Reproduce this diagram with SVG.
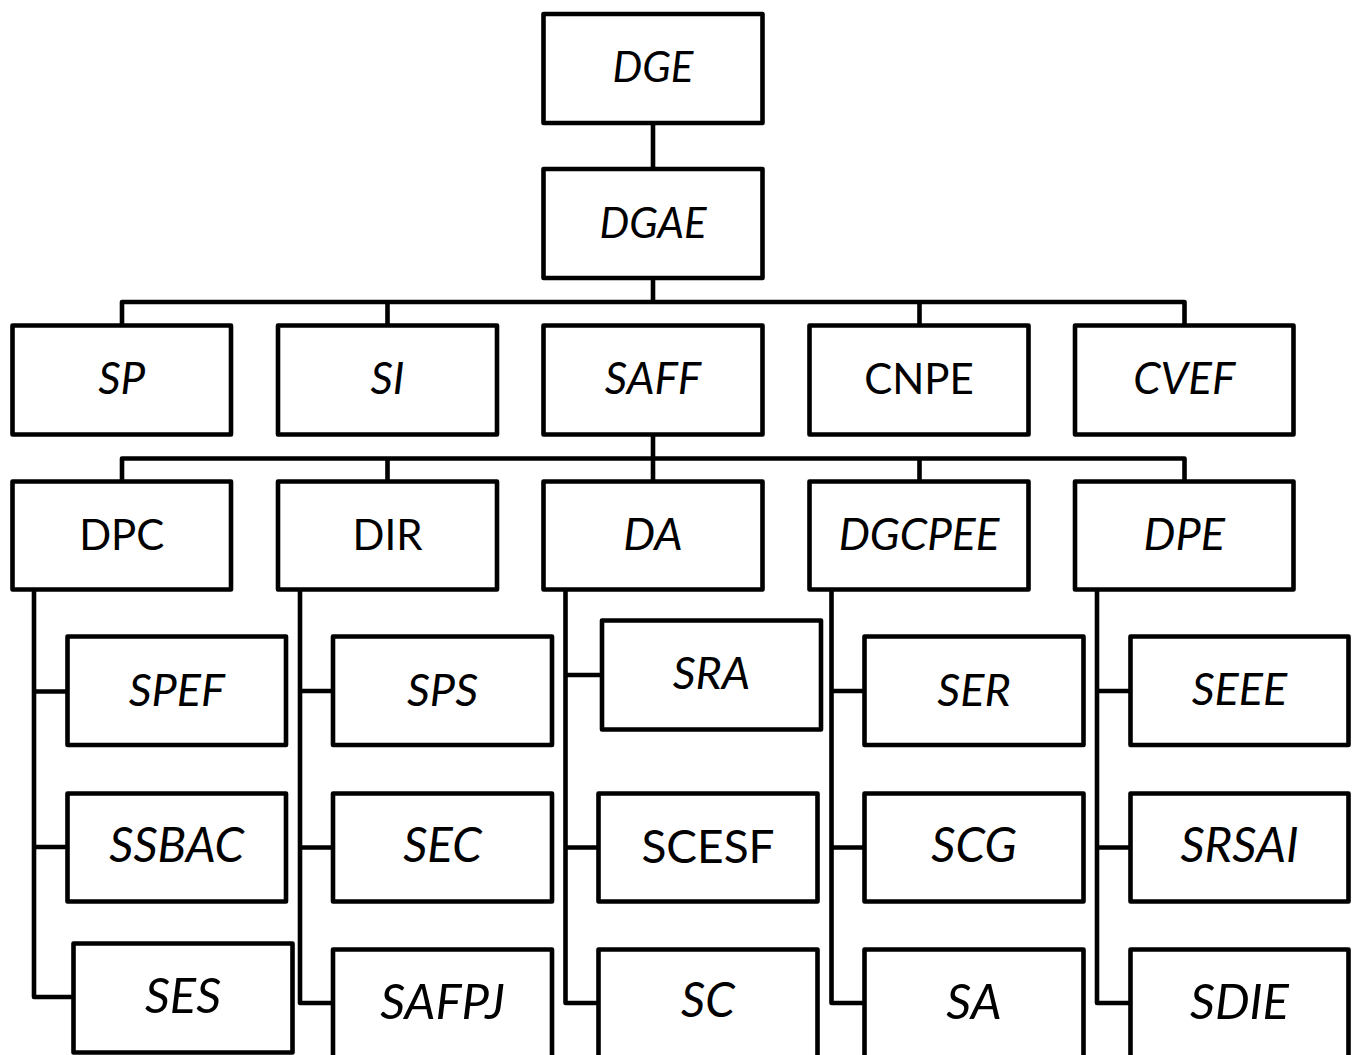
<svg xmlns="http://www.w3.org/2000/svg" width="1362" height="1055" viewBox="0 0 1362 1055">
<style>
.b{fill:#fff;stroke:#000;stroke-width:4.6;stroke-linejoin:round}
.c{fill:none;stroke:#000;stroke-width:4.6;stroke-linejoin:round}
text{font-family:Lato,"Open Sans",sans-serif;text-anchor:middle;fill:#000}
.i{font-style:italic}
.u{font-size:42px}
.s0{font-size:42px}.s1{font-size:44px}.s2{font-size:45px}.s3{font-size:47.5px}.s4{font-size:49px}
</style>
<rect width="1362" height="1055" fill="#fff"/>
<g id="connectors" class="c">
<path d="M653,123V169M653,278V302M122,325V302H1184.5V325M387.5,302V325M919.5,302V325"/>
<path d="M653,434V458.5M122,481V458.5H1184.5V481M387.5,458.5V481M653,458.5V481M919.5,458.5V481"/>
<path d="M34,589V997H73.5M34,691.5H67.5M34,847H67.5"/>
<path d="M300,589V1003H333M300,691H333M300,847.5H333"/>
<path d="M565.5,589V1003H598.5M565.5,675H602M565.5,847.5H598.5"/>
<path d="M831.5,589V1003H864.5M831.5,691H864.5M831.5,847.5H864.5"/>
<path d="M1097,589V1003H1130.5M1097,691H1130.5M1097,847.5H1130.5"/>
</g>
<g id="DGE"><rect class="b" x="543.5" y="14" width="219" height="109"/><text class="i s0" x="653" y="82">DGE</text></g>
<g id="DGAE"><rect class="b" x="543.5" y="169" width="219" height="109"/><text class="i s0" x="653" y="238">DGAE</text></g>
<g id="SP"><rect class="b" x="12.5" y="325.5" width="218.5" height="109"/><text class="i s1" x="121.75" y="394">SP</text></g>
<g id="SI"><rect class="b" x="278" y="325.5" width="219" height="109"/><text class="i s1" x="387.5" y="394">SI</text></g>
<g id="SAFF"><rect class="b" x="543.5" y="325.5" width="219" height="109"/><text class="i s1" x="653" y="394">SAFF</text></g>
<g id="CNPE"><rect class="b" x="809.5" y="325.5" width="219" height="109"/><text class="u" x="919" y="394">CNPE</text></g>
<g id="CVEF"><rect class="b" x="1075" y="325.5" width="218.5" height="109"/><text class="i s1" x="1184.25" y="394">CVEF</text></g>
<g id="DPC"><rect class="b" x="12.5" y="481.5" width="218.5" height="108"/><text class="u" x="121.75" y="550">DPC</text></g>
<g id="DIR"><rect class="b" x="278" y="481.5" width="219" height="108"/><text class="u" x="387.5" y="550">DIR</text></g>
<g id="DA"><rect class="b" x="543.5" y="481.5" width="219" height="108"/><text class="i s2" x="653" y="550">DA</text></g>
<g id="DGCPEE"><rect class="b" x="809.5" y="481.5" width="219" height="108"/><text class="i s1" x="919" y="550">DGCPEE</text></g>
<g id="DPE"><rect class="b" x="1075" y="481.5" width="218.5" height="108"/><text class="i s2" x="1184.25" y="550">DPE</text></g>
<g id="SPEF"><rect class="b" x="67.5" y="636.5" width="218.5" height="108.5"/><text class="i s2" x="176.75" y="706">SPEF</text></g>
<g id="SSBAC"><rect class="b" x="67.5" y="793.5" width="218.5" height="108"/><text class="i s3" x="176.75" y="862">SSBAC</text></g>
<g id="SES"><rect class="b" x="73.5" y="943.5" width="219" height="109"/><text class="i s4" x="183" y="1013">SES</text></g>
<g id="SPS"><rect class="b" x="333" y="636.5" width="219" height="108.5"/><text class="i s2" x="442.5" y="706">SPS</text></g>
<g id="SEC"><rect class="b" x="333" y="793.5" width="219" height="108"/><text class="i s3" x="442.5" y="862">SEC</text></g>
<g id="SAFPJ"><rect class="b" x="333" y="949.5" width="219" height="109"/><text class="i s4" x="442.5" y="1019">SAFPJ</text></g>
<g id="SRA"><rect class="b" x="602" y="620.5" width="219" height="109"/><text class="i s2" x="711.5" y="689">SRA</text></g>
<g id="SCESF"><rect class="b" x="598.5" y="793.5" width="219" height="108"/><text class="u" style="font-size:46px" x="708" y="863">SCESF</text></g>
<g id="SC"><rect class="b" x="598.5" y="949.5" width="219" height="109"/><text class="i s3" x="708" y="1017">SC</text></g>
<g id="SER"><rect class="b" x="864.5" y="636.5" width="219" height="108.5"/><text class="i s2" x="974" y="706">SER</text></g>
<g id="SCG"><rect class="b" x="864.5" y="793.5" width="219" height="108"/><text class="i s3" x="974" y="862">SCG</text></g>
<g id="SA"><rect class="b" x="864.5" y="949.5" width="219" height="109"/><text class="i s4" x="974" y="1019">SA</text></g>
<g id="SEEE"><rect class="b" x="1130.5" y="636.5" width="218" height="108.5"/><text class="i s2" x="1239.5" y="705">SEEE</text></g>
<g id="SRSAI"><rect class="b" x="1130.5" y="793.5" width="218" height="108"/><text class="i s3" x="1239.5" y="862">SRSAI</text></g>
<g id="SDIE"><rect class="b" x="1130.5" y="949.5" width="218" height="109"/><text class="i s4" x="1239.5" y="1019">SDIE</text></g>
</svg>
